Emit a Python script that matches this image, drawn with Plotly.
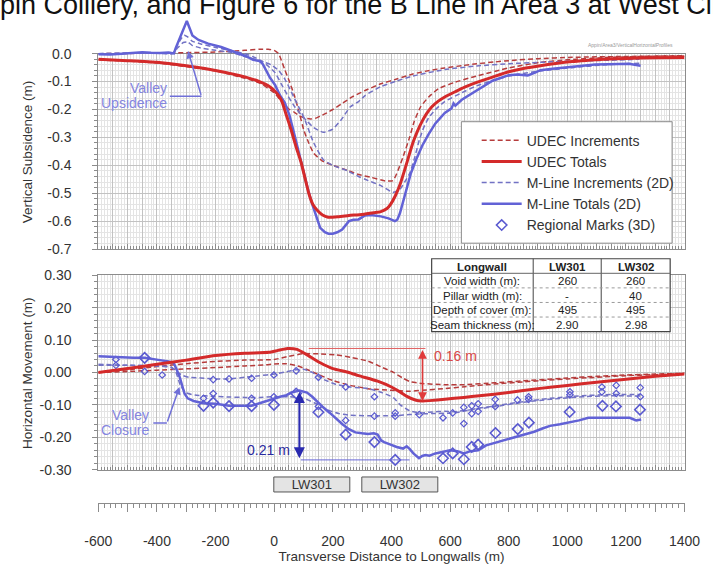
import plotly.graph_objects as go

W, H = 713, 568
FONT = "Liberation Sans, Arial, sans-serif"

RED = "#d42a2a"
RED_DASH = "#b63c3c"
BLUE = "#6262d6"
BLUE_DASH = "#7272c4"
MARK = "#5a5ad0"
GRID = "#c2c2c2"
GRID_MINOR = "#e4e4e4"
AXIS = "#8c8c8c"
TXT = "#333333"

# ---------------- Vertical subsidence (m) ----------------
udec_tot_v_x = [-600, -500, -400, -300, -200, -100, -50, -20, 0, 15, 26, 40, 59, 75, 92, 105, 118, 132, 146,
                165, 184, 220, 255, 300, 340, 364, 385, 397, 413, 429, 450, 473, 490, 506, 520, 538, 560, 582,
                620, 650, 691, 750, 800, 850, 908, 960, 1017, 1070, 1126, 1200, 1300, 1400]
udec_tot_v_y = [-0.020, -0.025, -0.031, -0.043, -0.060, -0.083, -0.100, -0.115, -0.132, -0.150, -0.170, -0.215,
                -0.277, -0.335, -0.390, -0.445, -0.500, -0.540, -0.560, -0.578, -0.586, -0.584, -0.580, -0.576,
                -0.570, -0.566, -0.555, -0.540, -0.510, -0.470, -0.400, -0.320, -0.275, -0.240, -0.215, -0.190,
                -0.170, -0.155, -0.135, -0.120, -0.103, -0.082, -0.065, -0.053, -0.043, -0.035, -0.028, -0.024,
                -0.020, -0.017, -0.015, -0.014]

udec_inc1_v_x = [-600, -400, -200, -100, -50, 0, 20, 36, 52, 69, 85, 102, 124, 140, 157, 180, 200, 230, 266, 310,
                 364, 418, 473, 530, 582, 640, 691, 750, 800, 900, 1017, 1200, 1400]
udec_inc1_v_y = [-0.022, -0.033, -0.062, -0.088, -0.105, -0.140, -0.165, -0.184, -0.200, -0.210, -0.222, -0.230,
                 -0.234, -0.232, -0.224, -0.212, -0.200, -0.180, -0.155, -0.132, -0.108, -0.091, -0.073, -0.060,
                 -0.051, -0.043, -0.036, -0.030, -0.025, -0.018, -0.013, -0.010, -0.008]

udec_inc2_v_x = [-600, -400, -200, -100, -50, -20, 0, 15, 36, 52, 69, 85, 102, 118, 135, 165, 200, 250, 288, 330,
                 379, 405, 418, 440, 462, 478, 500, 527, 560, 615, 691, 800, 908, 1000, 1126, 1250, 1400]
udec_inc2_v_y = [0.000, 0.002, 0.006, 0.012, 0.016, 0.016, 0.012, 0.000, -0.057, -0.100, -0.150, -0.210, -0.277,
                 -0.320, -0.357, -0.385, -0.400, -0.418, -0.433, -0.443, -0.456, -0.455, -0.430, -0.369, -0.300,
                 -0.242, -0.190, -0.155, -0.126, -0.103, -0.080, -0.051, -0.031, -0.022, -0.014, -0.010, -0.007]

mline_tot_v_x = [-600, -560, -520, -480, -450, -420, -390, -360, -342, -336, -298, -288, -279, -258, -225, -181,
                 -137, -110, -94, -72, -50, -40, -29, -15, 3, 20, 36, 52, 69, 85, 102, 116, 130, 145, 157, 173,
                 185, 200, 215, 232, 245, 255, 270, 288, 310, 330, 364, 390, 412, 420, 429, 440, 451, 466, 484,
                 505, 527, 550, 582, 605, 612, 618, 640, 660, 691, 720, 745, 770, 800, 830, 865, 890, 908, 950,
                 1017, 1060, 1095, 1140, 1180, 1210, 1230, 1250]
mline_tot_v_y = [-0.002, -0.003, 0.000, 0.004, 0.005, 0.003, 0.002, 0.004, 0.001, 0.020, 0.117, 0.090, 0.065,
                 0.049, 0.036, 0.024, 0.007, -0.005, -0.010, -0.022, -0.026, -0.035, -0.056, -0.085, -0.112,
                 -0.150, -0.175, -0.220, -0.290, -0.360, -0.430, -0.490, -0.540, -0.590, -0.624, -0.640, -0.645,
                 -0.645, -0.640, -0.630, -0.615, -0.600, -0.595, -0.594, -0.580, -0.578, -0.583, -0.590, -0.600,
                 -0.595, -0.572, -0.530, -0.485, -0.430, -0.380, -0.330, -0.288, -0.250, -0.212, -0.196, -0.178,
                 -0.186, -0.165, -0.152, -0.132, -0.115, -0.097, -0.088, -0.077, -0.075, -0.078, -0.068, -0.059,
                 -0.054, -0.047, -0.042, -0.039, -0.038, -0.037, -0.036, -0.040, -0.043]

mline_inc1_v_x = [-600, -500, -400, -345, -335, -320, -307, -295, -280, -250, -200, -150, -100, -70, -40, -20, 3,
                  25, 46, 70, 92, 115, 135, 168, 200, 230, 260, 288, 310, 364, 418, 473, 582, 691, 800, 908,
                  1017, 1126, 1246]
mline_inc1_v_y = [0.000, 0.002, 0.003, 0.002, 0.020, 0.050, 0.066, 0.060, 0.045, 0.035, 0.022, 0.012, 0.000,
                  -0.012, -0.028, -0.045, -0.068, -0.110, -0.150, -0.190, -0.219, -0.245, -0.265, -0.282, -0.270,
                  -0.235, -0.190, -0.172, -0.150, -0.118, -0.098, -0.080, -0.057, -0.044, -0.036, -0.031, -0.027,
                  -0.024, -0.020]

mline_inc2_v_x = [-600, -400, -345, -330, -310, -295, -280, -250, -200, -150, -100, -50, -10, 15, 36, 69, 102,
                  135, 168, 200, 250, 288, 310, 364, 406, 430, 445, 462, 480, 495, 510, 527, 550, 582, 640, 691,
                  750, 800, 908, 1017, 1126, 1246]
mline_inc2_v_y = [0.000, 0.002, 0.000, 0.020, 0.040, 0.042, 0.030, 0.020, 0.012, 0.005, -0.010, -0.025, -0.040,
                  -0.060, -0.090, -0.160, -0.230, -0.320, -0.380, -0.400, -0.420, -0.440, -0.450, -0.473, -0.497,
                  -0.485, -0.460, -0.430, -0.370, -0.310, -0.265, -0.230, -0.200, -0.172, -0.140, -0.115, -0.095,
                  -0.080, -0.062, -0.050, -0.040, -0.034]

# ---------------- Horizontal movement (m) ----------------
udec_tot_h_x = [-600, -500, -400, -300, -200, -100, -18, 13, 46, 78, 111, 157, 200, 255, 288, 353, 400, 429, 451,
                484, 506, 530, 582, 647, 700, 800, 900, 1000, 1100, 1200, 1300, 1400]
udec_tot_h_y = [0.000, 0.012, 0.025, 0.038, 0.052, 0.059, 0.062, 0.068, 0.074, 0.071, 0.055, 0.030, 0.012, 0.000,
                -0.010, -0.027, -0.045, -0.060, -0.073, -0.086, -0.088, -0.087, -0.083, -0.077, -0.072, -0.062,
                -0.050, -0.040, -0.030, -0.021, -0.012, -0.005]

udec_inc1_h_x = [-600, -500, -400, -300, -200, -100, 0, 50, 102, 160, 211, 260, 320, 370, 407, 440, 462, 505, 580,
                 650, 750, 850, 1000, 1100, 1200, 1300, 1400]
udec_inc1_h_y = [0.000, 0.008, 0.018, 0.027, 0.034, 0.038, 0.040, 0.050, 0.058, 0.057, 0.054, 0.047, 0.035, 0.015,
                 0.000, -0.018, -0.028, -0.034, -0.038, -0.038, -0.032, -0.026, -0.017, -0.012, -0.008, -0.005,
                 -0.003]

udec_inc2_h_x = [-600, -500, -400, -300, -200, -100, -20, 0, 40, 80, 110, 150, 200, 260, 320, 400, 460, 505, 580,
                 650, 750, 850, 1000, 1100, 1200, 1300, 1400]
udec_inc2_h_y = [0.000, 0.003, 0.007, 0.011, 0.015, 0.020, 0.024, 0.026, 0.027, 0.020, 0.010, -0.006, -0.025,
                 -0.040, -0.050, -0.055, -0.058, -0.055, -0.050, -0.044, -0.036, -0.029, -0.020, -0.015, -0.010,
                 -0.007, -0.004]

mline_tot_h_x = [-600, -560, -520, -480, -442, -410, -390, -360, -343, -333, -322, -306, -295, -275, -241, -200,
                 -154, -120, -77, -50, -34, -1, 20, 42, 59, 86, 100, 112, 130, 146, 170, 190, 212, 233, 255, 277,
                 300, 320, 340, 353, 365, 375, 395, 418, 440, 452, 462, 475, 494, 505, 516, 530, 550, 582, 600,
                 625, 647, 670, 696, 723, 750, 778, 805, 832, 860, 887, 915, 941, 975, 1007, 1040, 1072, 1100,
                 1137, 1175, 1213, 1235, 1252]
mline_tot_h_y = [0.050, 0.048, 0.046, 0.045, 0.045, 0.042, 0.038, 0.034, 0.030, 0.010, -0.015, -0.065, -0.080,
                 -0.088, -0.095, -0.097, -0.103, -0.103, -0.103, -0.095, -0.090, -0.080, -0.075, -0.070, -0.062,
                 -0.056, -0.058, -0.062, -0.075, -0.090, -0.110, -0.125, -0.143, -0.160, -0.175, -0.185, -0.188,
                 -0.190, -0.188, -0.192, -0.210, -0.215, -0.222, -0.230, -0.235, -0.228, -0.236, -0.250, -0.265,
                 -0.258, -0.255, -0.257, -0.250, -0.243, -0.240, -0.243, -0.250, -0.243, -0.240, -0.225, -0.218,
                 -0.210, -0.203, -0.195, -0.190, -0.183, -0.173, -0.165, -0.160, -0.155, -0.148, -0.140, -0.140,
                 -0.139, -0.140, -0.140, -0.148, -0.145]

mline_inc1_h_x = [-600, -500, -400, -350, -330, -310, -290, -250, -200, -150, -100, -50, 0, 40, 75, 100, 130, 170,
                  211, 260, 320, 370, 407, 430, 462, 495, 540, 582, 614, 700, 756, 850, 941, 1050, 1150, 1250]
mline_inc1_h_y = [0.025, 0.022, 0.020, 0.015, 0.000, -0.010, -0.015, -0.017, -0.020, -0.020, -0.015, -0.010,
                  -0.005, 0.002, 0.008, 0.010, 0.000, -0.022, -0.037, -0.045, -0.050, -0.063, -0.078, -0.100,
                  -0.118, -0.125, -0.122, -0.120, -0.121, -0.112, -0.105, -0.092, -0.083, -0.075, -0.072, -0.073]

mline_inc2_h_x = [-600, -500, -400, -350, -335, -320, -300, -270, -200, -150, -100, -50, 0, 50, 100, 140, 180,
                  220, 260, 320, 380, 420, 462, 495, 540, 614, 700, 756, 850, 941, 1050, 1150, 1250]
mline_inc2_h_y = [0.022, 0.022, 0.020, 0.016, 0.000, -0.040, -0.063, -0.070, -0.074, -0.076, -0.077, -0.077,
                  -0.075, -0.075, -0.080, -0.095, -0.115, -0.127, -0.132, -0.134, -0.134, -0.133, -0.130, -0.128,
                  -0.127, -0.125, -0.110, -0.103, -0.090, -0.080, -0.072, -0.068, -0.068]

# regional survey marks (3D): totals and the two per-panel increments
marks_x = [-442, -241, -208, -154, -77, -1, 75, 151, 244, 342, 413, 576, 609, 647, 674, 696, 755, 831, 869,
           1008, 1120, 1166, 1248]
marks_tot = [0.045, -0.103, -0.093, -0.104, -0.104, -0.100, -0.065, -0.123, -0.192, -0.215, -0.270, -0.265,
             -0.250, -0.268, -0.230, -0.223, -0.187, -0.175, -0.155, -0.122, -0.103, -0.105, -0.115]
marks_inc_x = [-540, -540, -442, -382, -241, -208, -208, -154, -77, -77, -1, -1, 75, 151, 151, 244, 244, 342, 342,
               413, 413, 495, 576, 609, 647, 647, 674, 674, 696, 696, 754, 754, 830, 868, 868, 1009, 1009, 1118,
               1118, 1167, 1167, 1249, 1249]
marks_inc = [0.040, 0.022, 0.003, -0.008, -0.080, -0.022, -0.065, -0.020, -0.018, -0.080, -0.008, -0.075, 0.005,
             -0.015, -0.105, -0.045, -0.148, -0.075, -0.135, -0.125, -0.135, -0.130, -0.140, -0.125, -0.108,
             -0.158, -0.103, -0.127, -0.097, -0.120, -0.083, -0.105, -0.085, -0.075, -0.083, -0.060, -0.069,
             -0.045, -0.060, -0.040, -0.065, -0.047, -0.075]

# longwall panels along the section
panel_names = ["LW301", "LW302"]
panel_start = [0, 300]
panel_width = [260, 260]

# table of panel geometry
table_cols = ["Longwall", "LW301", "LW302"]
table_rows = ["Void width (m):", "Pillar width (m):", "Depth of cover (m):", "Seam thickness (m):"]
table_lw301 = ["260", "-", "495", "2.90"]
table_lw302 = ["260", "40", "495", "2.98"]

# axis ticks
x_ticks = list(range(-600, 1401, 100))
x_labels = [str(v) if v % 200 == 0 else "" for v in x_ticks]
sub_ticks = [0.0, -0.1, -0.2, -0.3, -0.4, -0.5, -0.6, -0.7]
sub_labels = ["0.0", "-0.1", "-0.2", "-0.3", "-0.4", "-0.5", "-0.6", "-0.7"]
hor_ticks = [0.30, 0.20, 0.10, 0.0, -0.10, -0.20, -0.30]
hor_labels = ["0.30", "0.20", "0.10", "0.00", "-0.10", "-0.20", "-0.30"]


def px(p):
    return p / W


def py(p):
    return 1 - p / H


X_RANGE = [-600, 1400]
XDOM = [px(88), px(700)]
TOP_DOM = [py(248), py(47)]
TOP_PX_PER_M = (248 - 47) / 0.7
TOP_DATA_MAX = 0.13
TOP_DATA_DOM = [py(248), py(47 - TOP_DATA_MAX * TOP_PX_PER_M)]
BOT_DOM = [py(475), py(275)]
RULER_DOM = [py(509), py(480)]


def line(x, y, color, width, dash=None, xa="x4", ya="y4", name=None, rank=None, smooth=True):
    return go.Scatter(
        x=x, y=y, mode="lines", name=name, showlegend=name is not None,
        legendrank=rank if rank else 1000,
        line=dict(color=color, width=width, dash=dash,
                  shape="spline" if smooth else "linear", smoothing=0.5),
        xaxis=xa, yaxis=ya, hoverinfo="skip")


DASH = "5px,3px"
fig = go.Figure()

# empty trace that carries the gridded frame of the subsidence panel
fig.add_trace(go.Scatter(x=[], y=[], xaxis="x", yaxis="y", showlegend=False, hoverinfo="skip"))

# vertical subsidence panel
fig.add_trace(line(udec_inc1_v_x, udec_inc1_v_y, RED_DASH, 1.5, DASH, name="UDEC Increments", rank=1))
fig.add_trace(line(udec_inc2_v_x, udec_inc2_v_y, RED_DASH, 1.5, DASH))
fig.add_trace(line(mline_inc1_v_x, mline_inc1_v_y, BLUE_DASH, 1.5, DASH, name="M-Line Increments (2D)", rank=3))
fig.add_trace(line(mline_inc2_v_x, mline_inc2_v_y, BLUE_DASH, 1.5, DASH))
fig.add_trace(line(mline_tot_v_x, mline_tot_v_y, BLUE, 2.5, name="M-Line Totals (2D)", rank=4, smooth=False))
fig.add_trace(line(udec_tot_v_x, udec_tot_v_y, RED, 3, name="UDEC Totals", rank=2))

# horizontal movement panel
fig.add_trace(line(udec_inc1_h_x, udec_inc1_h_y, RED_DASH, 1.5, DASH, xa="x2", ya="y2"))
fig.add_trace(line(udec_inc2_h_x, udec_inc2_h_y, RED_DASH, 1.5, DASH, xa="x2", ya="y2"))
fig.add_trace(line(mline_inc1_h_x, mline_inc1_h_y, BLUE_DASH, 1.5, DASH, xa="x2", ya="y2"))
fig.add_trace(line(mline_inc2_h_x, mline_inc2_h_y, BLUE_DASH, 1.5, DASH, xa="x2", ya="y2"))
fig.add_trace(go.Scatter(x=marks_inc_x, y=marks_inc, mode="markers", showlegend=False, hoverinfo="skip",
                         marker=dict(symbol="diamond-open", size=5, color=MARK, line=dict(width=1.2)),
                         xaxis="x2", yaxis="y2"))
fig.add_trace(line(mline_tot_h_x, mline_tot_h_y, BLUE, 2.5, xa="x2", ya="y2", smooth=False))
fig.add_trace(line(udec_tot_h_x, udec_tot_h_y, RED, 3, xa="x2", ya="y2"))
fig.add_trace(go.Scatter(x=marks_x, y=marks_tot, mode="markers", name="Regional Marks (3D)", legendrank=5,
                         hoverinfo="skip",
                         marker=dict(symbol="diamond-open", size=8, color=MARK, line=dict(width=1.6)),
                         xaxis="x2", yaxis="y2"))

# longwall panel boxes under the section
fig.add_trace(go.Bar(x=panel_width, base=panel_start, y=[0, 0], orientation="h", width=1.45,
                     text=panel_names, textposition="inside", insidetextanchor="middle",
                     constraintext="none", textfont=dict(size=13, color=TXT, family=FONT),
                     marker=dict(color="#e4e4e4", line=dict(color="#555555", width=1)),
                     showlegend=False, hoverinfo="skip", xaxis="x3", yaxis="y3"))

grid_x = dict(range=X_RANGE, domain=XDOM, dtick=50, tick0=0, showgrid=True, gridcolor=GRID,
              minor=dict(dtick=10, showgrid=True, gridcolor=GRID_MINOR, ticks="inside", ticklen=3,
                         tickcolor=AXIS),
              ticks="inside", ticklen=5, tickcolor=AXIS, showticklabels=False, zeroline=False,
              showline=True, linecolor=AXIS, mirror=True)
hidden_x = dict(range=X_RANGE, domain=XDOM, visible=False, showgrid=False, zeroline=False)


def grid_y(dom, rng, vals, labels, anchor):
    return dict(domain=dom, range=rng, anchor=anchor, tickmode="array", tickvals=vals, ticktext=labels,
                showgrid=True, gridcolor=GRID, zeroline=False,
                minor=dict(dtick=0.02, tick0=0, showgrid=True, gridcolor=GRID_MINOR, ticks="outside",
                           ticklen=3, tickcolor=AXIS),
                ticks="outside", ticklen=5, tickcolor=AXIS, showline=True, linecolor=AXIS, mirror=True,
                tickfont=dict(size=14, color=TXT, family=FONT), ticklabelstandoff=18)


# arrow geometry taken from the plotted series
red_peak = max(udec_tot_h_y)
red_low = min(udec_tot_h_y)
red_x = udec_tot_h_x[udec_tot_h_y.index(red_low)]
red_peak_x = udec_tot_h_x[udec_tot_h_y.index(red_peak)]
blue_seg = [(v, d) for d, v in zip(mline_tot_h_x, mline_tot_h_y) if 0 <= d <= 200]
blue_peak, blue_x = max(blue_seg)
blue_low = min(mline_tot_h_y)


def paper_text(text, x, y, size=14, color=TXT, xanchor="center", yanchor="middle", angle=0):
    return dict(text=text, x=px(x), y=py(y), xref="paper", yref="paper", showarrow=False,
                xanchor=xanchor, yanchor=yanchor, textangle=angle,
                font=dict(size=size, color=color, family=FONT))


LABEL_BLUE = "#8585df"
annotations = [
    paper_text("Vertical Subsidence (m)", 24, 148, 13.5, xanchor="right", angle=-90),
    paper_text("Horizontal Movement (m)", 24, 375, 13.5, xanchor="right", angle=-90),
    paper_text("Appin/Area3/VerticalHorizontalProfiles", 690, 38, 5, "#9a9a9a", xanchor="right"),
    paper_text("Valley", 162, 82, 14, LABEL_BLUE, xanchor="right"),
    paper_text("Upsidence", 162, 98, 14, LABEL_BLUE, xanchor="right"),
    paper_text("Valley", 143, 419, 14, LABEL_BLUE, xanchor="right"),
    paper_text("Closure", 143, 434, 14, LABEL_BLUE, xanchor="right"),
    dict(x=-294, y=0.010, ax=-248, ay=-0.153, xref="x4", yref="y4", axref="x4", ayref="y4", text="",
         showarrow=True, arrowhead=2, arrowsize=1, arrowwidth=1.5, arrowcolor="#7070d8"),
    dict(x=-323, y=-0.045, ax=-366, ay=-0.156, xref="x2", yref="y2", axref="x2", ayref="y2", text="",
         showarrow=True, arrowhead=2, arrowsize=1, arrowwidth=1.5, arrowcolor="#7070d8"),
    # differential movements
    dict(x=red_x, y=red_low, ax=red_x, ay=red_peak, xref="x2", yref="y2", axref="x2", ayref="y2", text="",
         showarrow=True, arrowhead=2, arrowside="end+start", arrowsize=1.1, arrowwidth=1.6,
         arrowcolor="#e03a3a"),
    dict(text="0.16 m", x=red_x + 32, y=red_peak - 0.023, xref="x2", yref="y2", xanchor="left",
         yanchor="middle", showarrow=False, font=dict(size=14, color="#d84848", family=FONT)),
    dict(x=blue_x, y=blue_low, ax=blue_x, ay=blue_peak, xref="x2", yref="y2", axref="x2", ayref="y2",
         text="", showarrow=True, arrowhead=2, arrowside="end+start", arrowsize=1.1, arrowwidth=2,
         arrowcolor="#2a2ab0"),
    dict(text="0.21 m", x=blue_x - 26, y=blue_low + 0.027, xref="x2", yref="y2", xanchor="right",
         yanchor="middle", showarrow=False, font=dict(size=14, color="#2a2aa0", family=FONT)),
]

shapes = [
    # legend frame
    dict(type="rect", xref="paper", yref="paper", x0=px(467), x1=px(687), y0=py(242), y1=py(117),
         fillcolor="white", line=dict(color="#8a8a8a", width=1), layer="above"),
    # leader for the valley upsidence label
    dict(type="line", xref="x4", yref="y4", x0=-356, x1=-248, y0=-0.153, y1=-0.153,
         line=dict(color="#7070d8", width=1.5)),
    # leader for the valley closure label
    dict(type="line", xref="x2", yref="y2", x0=-412, x1=-366, y0=-0.156, y1=-0.156,
         line=dict(color="#7070d8", width=1.5)),
    # reference levels for the differential movements
    dict(type="line", xref="x2", yref="y2", x0=red_peak_x + 72, x1=red_x + 10, y0=red_peak, y1=red_peak,
         line=dict(color="#e06060", width=1)),
    dict(type="line", xref="x2", yref="y2", x0=blue_x + 5, x1=462, y0=blue_low - 0.005,
         y1=blue_low - 0.005, line=dict(color="#6a6ad8", width=1)),
]

# panel geometry table drawn as a framed grid of text cells
col_edges = [436, 542, 613, 685]
row_edges = [258, 273, 288, 303, 318, 333]
shapes.append(dict(type="rect", xref="paper", yref="paper", x0=px(col_edges[0]), x1=px(col_edges[-1]),
                   y0=py(row_edges[-1]), y1=py(row_edges[0]), fillcolor="white",
                   line=dict(color="#444444", width=1.2), layer="above"))
for cx in col_edges[1:-1]:
    shapes.append(dict(type="line", xref="paper", yref="paper", x0=px(cx), x1=px(cx),
                       y0=py(row_edges[-1]), y1=py(row_edges[0]), line=dict(color="#444444", width=1),
                       layer="above"))
for i, ry in enumerate(row_edges[1:-1]):
    shapes.append(dict(type="line", xref="paper", yref="paper", x0=px(col_edges[0]), x1=px(col_edges[-1]),
                       y0=py(ry), y1=py(ry), layer="above",
                       line=dict(color="#666666" if i == 0 else "#9a9a9a", width=1,
                                 dash="solid" if i == 0 else "dot")))
table_columns = [[table_cols[0]] + table_rows, [table_cols[1]] + table_lw301, [table_cols[2]] + table_lw302]
for ci, column in enumerate(table_columns):
    cx = (col_edges[ci] + col_edges[ci + 1]) / 2
    for ri, cell in enumerate(column):
        cy = (row_edges[ri] + row_edges[ri + 1]) / 2 + 0.5
        label = "<b>%s</b>" % cell if ri == 0 else cell
        annotations.append(paper_text(label, cx, cy, 11.5, "#222222"))

fig.update_layout(
    width=W, height=H, margin=dict(l=0, r=0, t=0, b=0),
    paper_bgcolor="white", plot_bgcolor="rgba(0,0,0,0)",
    font=dict(family=FONT, color=TXT),
    title=dict(text="pin Colliery, and Figure 6 for the B Line in Area 3 at West Cliff Colliery",
               x=0, xref="container", xanchor="left", y=1 - 14 / H, yref="container", yanchor="bottom",
               pad=dict(t=0, b=0, l=0, r=0), font=dict(size=27, color="#111111", family=FONT)),
    xaxis=dict(grid_x, anchor="y"),
    yaxis=grid_y(TOP_DOM, [-0.7, 0], sub_ticks, sub_labels, "x"),
    xaxis2=dict(grid_x, anchor="y2"),
    yaxis2=grid_y(BOT_DOM, [-0.3, 0.3], hor_ticks, hor_labels, "x2"),
    xaxis3=dict(range=X_RANGE, domain=XDOM, anchor="y3", tickmode="array", tickvals=x_ticks,
                ticktext=x_labels, ticks="outside", ticklen=8, tickcolor=AXIS, showline=True,
                linecolor=AXIS, showgrid=False, zeroline=False, ticklabeloverflow="allow",
                minor=dict(dtick=20, tick0=0, ticks="outside", ticklen=4, tickcolor=AXIS),
                tickfont=dict(size=14, color=TXT, family=FONT), ticklabelstandoff=18,
                title=dict(text="Transverse Distance to Longwalls (m)", standoff=3,
                           font=dict(size=13.5, color=TXT, family=FONT))),
    yaxis3=dict(domain=RULER_DOM, range=[-1.636, 1], anchor="x3", visible=False),
    xaxis4=dict(hidden_x, anchor="y4"),
    yaxis4=dict(domain=TOP_DATA_DOM, range=[-0.7, TOP_DATA_MAX], anchor="x4", visible=False),
    legend=dict(x=px(483), y=py(120), xanchor="left", yanchor="top", bgcolor="rgba(0,0,0,0)",
                borderwidth=0, font=dict(size=14, color=TXT, family=FONT), itemwidth=40,
                tracegroupgap=0, traceorder="normal"),
    annotations=annotations,
    shapes=shapes,
    bargap=0,
)

fig.write_html("out.html")
